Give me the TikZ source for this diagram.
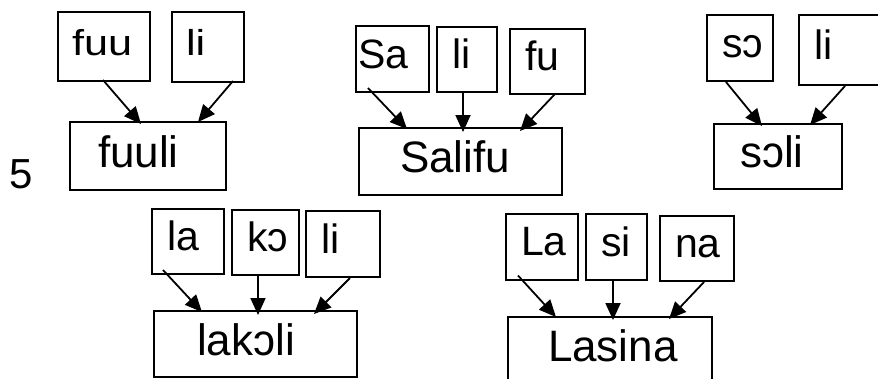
\documentclass[tikz,border=0pt]{standalone}
\usepackage{fontspec}
\setmainfont{Liberation Sans}
\newfontfamily\sylfont[FakeStretch=1.2]{Liberation Sans}
\usetikzlibrary{arrows.meta}

\begin{document}
\begin{tikzpicture}[x=1pt, y=-1pt,
    syl/.style={draw, line width=2pt, inner xsep=15pt, inner ysep=0pt,
      text width=#1, align=left, minimum height=66pt,
      font=\fontsize{41}{46}\selectfont, text height=30pt, text depth=12pt},
    sylwide/.style={syl=#1, inner xsep=14pt,
      font=\sylfont\fontsize{36}{40}\selectfont, text height=26pt, text depth=9pt},
    word/.style={draw, line width=2pt, inner ysep=0pt, text width=#1,
      align=left, minimum height=67pt, font=\fontsize{44}{50}\selectfont,
      text height=33pt, text depth=11pt},
    arr/.style={line width=1.8pt, -{Triangle[length=17pt, width=15pt]}},
  ]
  \useasboundingbox (0,0) rectangle (878,378);

  \node[font=\fontsize{42}{46}\selectfont] (num) at (21,174) {5};

  % fuu + li
  \node[sylwide=64pt, minimum height=69pt] (fuu) at (104,46.5) {fuu};
  \node[sylwide=44pt, minimum height=70pt] (lia) at (208,47) {li};
  \node[word=100pt, inner xsep=28pt, minimum height=68pt] (fuuli) at (148,156) {fuuli};
  \draw[arr] ([xshift=-1pt, yshift=2pt]fuu.south) -- ([xshift=-7pt, yshift=-3pt]fuuli.north);
  \draw[arr] ([xshift=25pt, yshift=2pt]lia.south) -- ([xshift=50pt, yshift=-1pt]fuuli.north);

  % Sa + li + fu
  \node[syl=69pt, inner xsep=2pt] (sa) at (392.5,59) {Sa};
  \node[syl=30pt, minimum height=65pt] (lib) at (467,59.5) {li};
  \node[syl=45pt, minimum height=65pt] (fu) at (547.5,61.5) {fu};
  \node[word=121pt, inner xsep=41pt] (salifu) at (460.5,161.5) {Salifu};
  \draw[arr] ([xshift=-24.5pt, yshift=5pt]sa.south) -- ([xshift=-53.5pt, yshift=-2pt]salifu.north);
  \draw[arr] ([xshift=-4pt]lib.south) -- ([xshift=2.5pt, yshift=-5pt]salifu.north);
  \draw[arr] ([xshift=7.5pt, yshift=1pt]fu.south) -- ([xshift=59.5pt, yshift=-4pt]salifu.north);

  % sɔ + li
  \node[syl=36pt] (so) at (740,48) {sɔ};
  \node[syl=56pt, minimum height=70pt] (lic) at (842,50) {li};
  \node[word=76pt, inner xsep=26pt, minimum height=65pt] (soli) at (778,156.5) {sɔli};
  \draw[arr] ([xshift=-14pt]so.south) -- ([xshift=-16pt, yshift=-3pt]soli.north);
  \draw[arr] ([xshift=3pt]lic.south) -- ([xshift=32pt, yshift=-2pt]soli.north);

  % la + kɔ + li
  \node[syl=42pt, minimum height=65pt] (la) at (188,241.5) {la};
  \node[syl=37pt, minimum height=65pt] (ko) at (265.5,242.5) {kɔ};
  \node[syl=44pt] (lid) at (343,244) {li};
  \node[word=117pt, inner xsep=43pt, minimum height=66pt] (lakoli) at (255.5,344) {lakɔli};
  \draw[arr] ([xshift=-25pt, yshift=5pt]la.south) -- ([xshift=-53.5pt, yshift=-2pt]lakoli.north);
  \draw[arr] ([xshift=-7.5pt]ko.south) -- ([xshift=2.5pt, yshift=-5pt]lakoli.north);
  \draw[arr] ([xshift=7pt]lid.south) -- ([xshift=58.5pt, yshift=-4pt]lakoli.north);

  % La + si + na
  \node[syl=42pt] (lasa) at (542,246.5) {La};
  \node[syl=31pt] (si) at (616.5,247) {si};
  \node[syl=44pt, minimum height=65pt] (na) at (697,248.5) {na};
  \node[word=124pt, inner xsep=40pt, minimum height=66pt] (lasina) at (610,350) {Lasina};
  \draw[arr] ([xshift=-24pt, yshift=5pt]lasa.south) -- ([xshift=-54pt, yshift=-1pt]lasina.north);
  \draw[arr] ([xshift=-3.5pt]si.south) -- ([xshift=3pt, yshift=-4pt]lasina.north);
  \draw[arr] ([xshift=7pt]na.south) -- ([xshift=59pt, yshift=-3pt]lasina.north);
\end{tikzpicture}
\end{document}
